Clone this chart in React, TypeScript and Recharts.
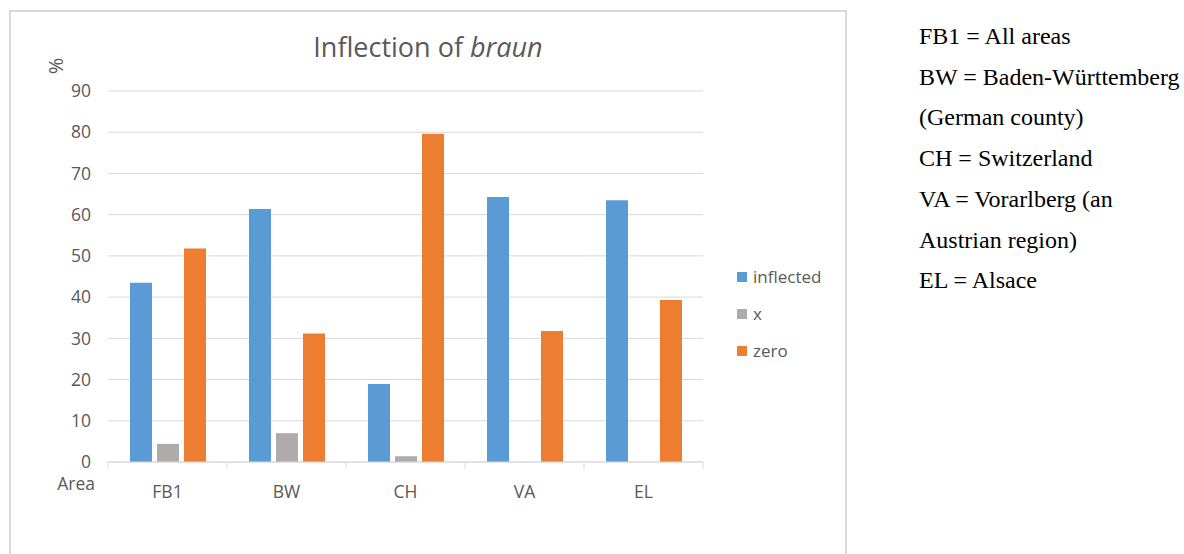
import { Bar, BarChart, CartesianGrid, Legend, XAxis, YAxis } from "recharts"

// chart values
const areas = ["FB1", "BW", "CH", "VA", "EL"]
const inflected = [43.5, 61.4, 18.9, 64.3, 63.5]
const xForm = [4.4, 7.0, 1.4, 0, 0]
const zero = [51.8, 31.2, 79.6, 31.8, 39.3]
const yTicks = [0, 10, 20, 30, 40, 50, 60, 70, 80, 90]

const notes = [
  "FB1 = All areas",
  "BW = Baden-Württemberg",
  "(German county)",
  "CH = Switzerland",
  "VA = Vorarlberg (an",
  "Austrian region)",
  "EL = Alsace",
]

const data = areas.map((area, i) => ({
  area,
  inflected: inflected[i],
  x: xForm[i],
  zero: zero[i],
}))

const FONT = "'Open Sans', sans-serif"
const TEXT = "#595959"
const GRID = "#d9d9d9"

// category label plus the small tick marks between categories
function AreaTick(props: any) {
  const { x, y, payload, index, width, visibleTicksCount } = props
  const half = width / visibleTicksCount / 2
  return (
    <g>
      <line x1={x - half} x2={x - half} y1={y} y2={y + 7} stroke={GRID} />
      {index === visibleTicksCount - 1 && (
        <line x1={x + half} x2={x + half} y1={y} y2={y + 7} stroke={GRID} />
      )}
      <text x={x} y={y + 30} dy="0.355em" textAnchor="middle" fill={TEXT} fontSize={17.5} fontFamily={FONT}>
        {payload.value}
      </text>
    </g>
  )
}

function LegendBox(props: any) {
  const { payload } = props
  return (
    <div>
      {payload.map((entry: any) => (
        <div
          key={entry.value}
          style={{ height: 37, display: "flex", alignItems: "center", fontFamily: FONT, fontSize: 17, color: TEXT }}
        >
          <span style={{ width: 10, height: 10, background: entry.color, marginRight: 6, display: "inline-block" }} />
          {entry.value}
        </div>
      ))}
    </div>
  )
}

export default function App() {
  return (
    <div style={{ position: "absolute", left: 0, top: 0, width: 1184, height: 554, overflow: "hidden", background: "#fff" }}>
      <div
        style={{
          position: "absolute",
          left: 9,
          top: 10,
          width: 838,
          height: 560,
          border: `2px solid ${GRID}`,
          boxSizing: "border-box",
        }}
      >
        <BarChart
          width={834}
          height={556}
          data={data}
          margin={{ top: 79, right: 142, bottom: 66, left: 37 }}
          barSize={22}
          barGap={5}
        >
          <CartesianGrid vertical={false} stroke={GRID} />
          <XAxis
            dataKey="area"
            height={40}
            axisLine={{ stroke: GRID }}
            tickLine={false}
            tickSize={0}
            tickMargin={0}
            tick={<AreaTick />}
            interval={0}
          />
          <YAxis
            width={60}
            domain={[0, 90]}
            ticks={yTicks}
            axisLine={false}
            tickLine={false}
            tickSize={0}
            tickMargin={17}
            tick={{ fill: TEXT, fontSize: 17.5, fontFamily: FONT }}
          />
          <Legend
            layout="vertical"
            align="center"
            verticalAlign="middle"
            content={<LegendBox />}
            wrapperStyle={{ left: 726, top: 246, width: 110 }}
          />
          <Bar dataKey="inflected" name="inflected" fill="#5B9BD5" isAnimationActive={false} />
          <Bar dataKey="x" name="x" fill="#AFABAB" isAnimationActive={false} />
          <Bar dataKey="zero" name="zero" fill="#ED7D31" isAnimationActive={false} />
        </BarChart>
      </div>
      <svg width={1184} height={554} style={{ position: "absolute", left: 0, top: 0, pointerEvents: "none" }}>
        <text x={428} y={57} textAnchor="middle" fill={TEXT} fontSize={27} fontFamily={FONT}>
          Inflection of <tspan fontStyle="italic">braun</tspan>
        </text>
        <text
          x={55}
          y={66}
          transform="rotate(-90 55 66)"
          textAnchor="middle"
          dominantBaseline="central"
          fill={TEXT}
          fontSize={20}
          fontFamily={FONT}
        >
          %
        </text>
        <text x={95} y={490} textAnchor="end" fill={TEXT} fontSize={17.5} fontFamily={FONT}>
          Area
        </text>
        {notes.map((line, i) => (
          <text key={line} x={919} y={44 + i * 40.7} fill="#000" fontSize={24} fontFamily="'Liberation Serif', serif">
            {line}
          </text>
        ))}
      </svg>
    </div>
  )
}
